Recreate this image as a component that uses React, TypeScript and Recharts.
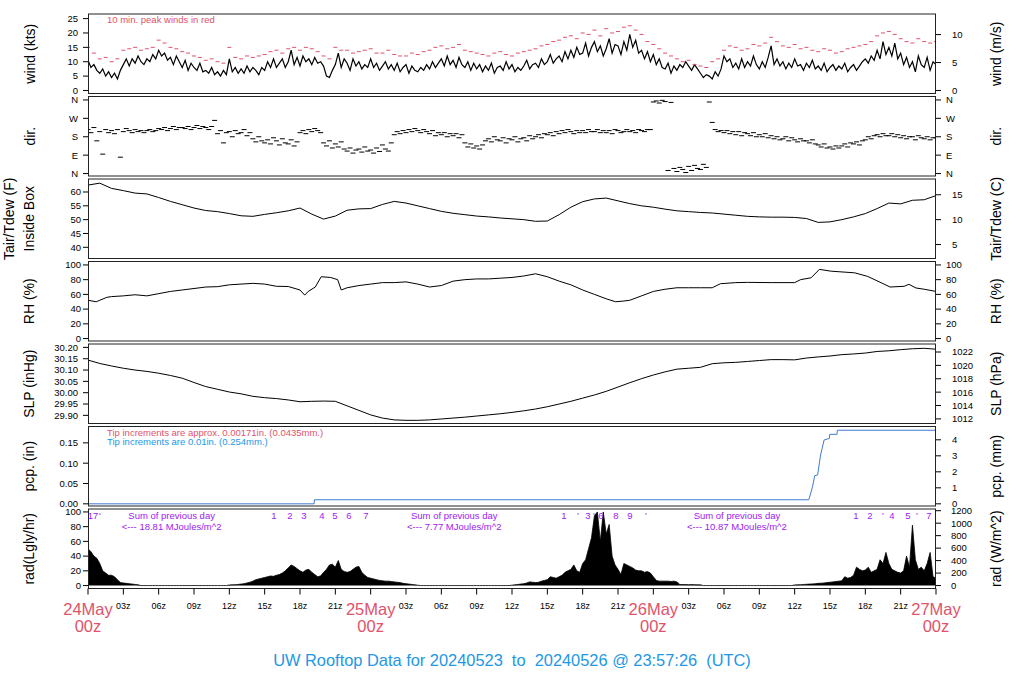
import React from "react";
import { ComposedChart, Line, Scatter, Area, XAxis, YAxis } from "recharts";

const FONT = '"Liberation Sans", Arial, Helvetica, sans-serif';
const PINK = "#DF536B";
const BLUE = "#2297E6";
const PURPLE = "#A020F0";

// 15-minute mean wind (kts), 24May 00z .. 27May 00z
const windKts = [
  10.5, 8, 9, 7, 6, 7.5, 5, 6.5, 4.5, 6, 4, 7, 9, 11, 8.5, 11, 9.5, 12, 10, 9, 11, 10, 12.5, 11,
  14, 12, 13, 10.5, 11.5, 9, 12, 10, 8, 10.5, 7, 9.5, 8, 7, 9.5, 6.5, 7, 6, 8, 5.5, 6.5, 5, 7, 5.5,
  11, 6.5, 8, 6, 7.5, 6, 8.5, 6.5, 8, 7, 5.5, 8, 7, 10, 8, 11, 8, 9.5, 11, 8, 10, 14, 9, 11.5,
  8.5, 12, 10, 11, 9, 11.5, 9.5, 10, 8.5, 5, 4.5, 7, 9, 13, 8, 11, 9.5, 7, 11, 8.5, 10, 7.5, 9, 8,
  11, 8, 9.5, 7, 8.5, 10, 7.5, 9, 7, 9.5, 6.5, 8, 9, 6, 8.5, 7, 6.5, 8, 7, 9, 7.5, 10, 8, 9.5,
  11, 8.5, 12, 9, 10.5, 8, 11.5, 9, 8, 10, 7, 9.5, 7.5, 9, 6.5, 8.5, 7, 9.5, 6, 8, 8.5, 7, 10, 7.5,
  9, 6.5, 8, 7, 8.5, 10.5, 7.5, 9, 9.5, 8, 11, 9, 10, 12.5, 9.5, 11, 12, 10, 13.5, 11, 14, 11.5, 15, 12.5,
  13, 16.5, 12, 15, 17, 13.5, 15.5, 12, 14.5, 18, 13, 16, 15.5, 12.5, 17, 14, 19.5, 15, 17.5, 13, 14, 11, 13.5, 10,
  12.5, 9, 11, 8, 7.5, 9.5, 6, 8.5, 7, 9, 8, 10, 8.5, 7, 9, 7.5, 6, 4.5, 5.5, 5, 4, 6.5, 5, 7.5,
  12, 10, 11, 8, 9.5, 7.5, 11, 8, 10, 8.5, 12, 9, 7.5, 10, 8, 11.5, 15.5, 9, 11, 8.5, 10, 7.5, 9.5, 8,
  11, 8.5, 9, 7, 9.5, 8, 10.5, 7.5, 8.5, 7, 9.5, 6.5, 8, 9, 7, 8.5, 7.5, 9.5, 6.5, 8, 9, 7, 8.5, 10,
  11, 9.5, 12, 10.5, 14, 11, 17, 12.5, 15, 12, 16.5, 11, 13, 9, 11.5, 8, 10, 6.5, 12, 9, 8, 11.5, 7, 10,
  9,
];

// 30-minute peak wind (kts)
const peakKts = [
  15, 13, 11, 11.5, 10, 11, 14, 14.5, 15, 14, 14.5, 15, 17.5, 16.5, 15, 14.5, 13.5, 13, 12, 11.5, 10.5, 11, 10, 9.5,
  15, 11.5, 11, 12, 11.5, 12, 12.5, 13.5, 14, 13, 14.5, 15, 14, 15, 14.5, 13.5, 12, 11, 15, 14, 14, 13, 13.5, 14,
  14.5, 13, 13, 14, 12.5, 12, 12, 13, 12.5, 13.5, 14, 15, 15.5, 14.5, 15, 16, 14, 13.5, 13, 12.5, 12, 13, 13.5, 12.5,
  12, 13, 13.5, 14, 14.5, 15.5, 16, 17, 17.5, 18.5, 19, 18, 20, 19.5, 21, 19, 21.5, 20, 20.5, 22, 22.5, 21, 19.5, 17,
  16, 14.5, 13, 12, 11, 10, 10.5, 9, 8.5, 8, 10, 11, 14, 15.5, 15, 14, 14.5, 16, 15.5, 16.5, 18.5, 17, 15.5, 15,
  16, 14.5, 15, 14, 13.5, 14.5, 14, 13, 13.5, 14.5, 15, 15.5, 16, 17, 19, 20, 20.5, 19.5, 18, 17, 16.5, 18, 17, 16.5,
  17,
];

// 15-minute wind direction (deg)
const windDir = [
  215, 200, 225, 160, 205, 95, 215, 200, 210, 195, 215, 80, 205, 220, 210, 200, 215, 205, 210, 200, 210, 215, 205, 210,
  220, 215, 225, 210, 220, 230, 215, 225, 225, 220, 230, 215, 225, 235, 220, 230, 225, 215, 230, 260, 195, 210, 150, 200,
  205, 180, 210, 195, 200, 215, 185, 200, 170, 155, 180, 160, 150, 165, 145, 175, 160, 140, 170, 150, 145, 165, 135, 155,
  200, 210, 195, 215, 205, 220, 210, 200, 150, 135, 160, 125, 145, 130, 155, 120, 110, 125, 100, 115, 120, 105, 130, 110,
  115, 100, 125, 108, 140, 120, 110, 150, 190, 205, 195, 210, 200, 215, 205, 220, 210, 200, 215, 205, 195, 210, 185, 200,
  190, 200, 180, 195, 185, 195, 175, 190, 150, 130, 145, 125, 135, 120, 140, 160, 170, 155, 180, 165, 160, 175, 150, 170,
  165, 180, 155, 170, 175, 160, 185, 170, 180, 190, 175, 195, 190, 200, 185, 205, 195, 210, 200, 215, 205, 195, 210, 200,
  210, 200, 215, 205, 205, 215, 200, 210, 200, 210, 195, 215, 210, 200, 205, 215, 205, 210, 200, 215, 210, 205, 215, 215,
  350, 355, 345, 358, 352, 15, 348, 25, 10, 30, 20, 5, 35, 15, 40, 25, 20, 45, 30, 350, 250, 215, 205, 210,
  200, 210, 195, 205, 190, 205, 185, 200, 195, 185, 200, 180, 190, 180, 195, 175, 185, 170, 180, 165, 170, 180, 160, 175,
  165, 155, 170, 160, 160, 150, 165, 145, 140, 130, 145, 125, 130, 120, 135, 125, 135, 145, 130, 150, 145, 155, 140, 160,
  165, 180, 170, 185, 190, 180, 195, 185, 185, 195, 180, 190, 175, 185, 170, 180, 180, 165, 185, 175, 170, 180, 165, 175,
  175,
];

// hourly inside-box temperature (F)
const tempF = [
  62.5, 63.2, 61.3, 60.5, 59.6, 59.3, 58.0, 56.6, 55.4, 54.2, 53.3, 52.9, 52.2, 51.4, 51.2, 51.9, 52.5, 53.2, 54.2, 52.0, 50.2, 51.3, 53.4, 53.9,
  54.0, 55.5, 56.6, 56.0, 55.0, 54.0, 53.0, 52.3, 51.8, 51.3, 51.0, 50.6, 50.3, 50.0, 49.4, 49.5, 51.8, 54.5, 56.5, 57.5, 57.8, 56.8, 55.8, 55.0,
  54.5, 53.8, 53.2, 52.9, 52.6, 52.4, 52.0, 51.6, 51.2, 51.0, 50.9, 50.9, 50.8, 50.4, 49.0, 49.2, 50.0, 51.0, 52.2, 54.0, 56.0, 55.7, 57.0, 57.2,
  58.7,
];

// relative humidity (%) as [hour, value]
const rhPct: [number, number][] = [
  [0, 52], [0.7, 50], [1, 52], [1.6, 56], [2, 57], [3, 58], [4, 59.5], [5, 58], [6, 61], [7, 64], [8, 66], [9, 68],
  [10, 70], [11, 70.5], [12, 73], [13, 74], [14, 75], [15, 74], [16, 71], [17, 70.7], [18, 66], [18.4, 59], [18.7, 64],
  [19.3, 70], [19.8, 84], [20.6, 83], [21.2, 80], [21.5, 66], [22, 69], [23, 72], [24, 74], [25, 76], [26, 76], [27, 77],
  [28, 74], [29, 70], [30, 72], [31, 78], [32, 80], [33, 81], [34, 81], [35, 82], [36, 83], [37, 85], [38, 88], [39, 84],
  [40, 78], [41, 73], [42, 66], [43, 60], [44, 54], [44.8, 50], [45.5, 51], [46, 52], [47, 58], [48, 64], [49, 67],
  [50, 69], [51, 69], [52, 69], [53, 69], [53.7, 74.5], [55, 76], [56, 76.3], [58, 76], [60, 76], [60.5, 80], [61.4, 82.6],
  [62.1, 94], [63.1, 91.5], [65.1, 89.3], [66.2, 84.4], [67.4, 75.4], [68.1, 70], [69.3, 71], [69.7, 73.7], [70.3, 68.7],
  [71, 67], [72, 64],
];

// hourly sea level pressure (inHg)
const slpInHg = [
  30.144, 30.129, 30.118, 30.108, 30.1, 30.094, 30.086, 30.076, 30.064, 30.045, 30.027, 30.015, 30.003, 29.995, 29.984, 29.978,
  29.974, 29.968, 29.96, 29.962, 29.963, 29.962, 29.942, 29.922, 29.902, 29.888, 29.88, 29.878, 29.878, 29.88, 29.884, 29.888,
  29.892, 29.897, 29.902, 29.907, 29.913, 29.92, 29.928, 29.938, 29.95, 29.962, 29.976, 29.99, 30.006, 30.025, 30.044, 30.062,
  30.078, 30.092, 30.104, 30.108, 30.112, 30.128, 30.132, 30.134, 30.138, 30.142, 30.146, 30.146, 30.145, 30.153, 30.158, 30.162,
  30.168, 30.171, 30.175, 30.182, 30.185, 30.19, 30.194, 30.196, 30.192,
];

// accumulated precipitation (in) as [hour, value]
const pcpIn: [number, number][] = [
  [0, 0], [19.2, 0], [19.22, 0.01], [61.2, 0.01], [61.5, 0.04], [61.7, 0.069], [61.95, 0.071], [62.2, 0.12],
  [62.5, 0.157], [62.95, 0.161], [62.97, 0.171], [63.6, 0.171], [63.62, 0.181], [72, 0.181],
];

// 15-minute solar radiation (Ly/hr)
const radLy = [
  50, 46, 40, 37, 30, 20, 17, 14, 14, 12, 8, 4, 3.5, 3, 2.5, 2, 1.5, 1, 0, 0, 0, 0, 0, 0,
  0, 0, 0, 0, 0, 0, 0, 0, 0, 0, 0, 0, 0, 0, 0, 0, 0, 0, 0, 0, 0, 0, 0, 0,
  0.8, 1, 1.2, 1.5, 2, 2.5, 3.5, 4.5, 6, 8, 9, 10, 11, 12, 13, 12.5, 14, 15, 17, 20, 24, 28, 26, 23,
  20, 18, 21, 22, 18, 15, 12, 13, 18, 22, 28, 29, 25, 34, 22, 19, 18, 19, 22, 25, 26, 18, 14, 11,
  10, 9, 8, 7, 6.5, 6, 6, 5.5, 5, 4.5, 4, 3, 2.5, 2, 1.5, 1, 0.5, 0, 0, 0, 0, 0, 0, 0,
  0, 0, 0, 0, 0, 0, 0, 0, 0, 0, 0, 0, 0, 0, 0, 0, 0, 0, 0, 0, 0, 0, 0, 0,
  0.5, 1, 1.5, 2, 2.5, 3.5, 5, 4.5, 4, 4.5, 6, 7, 8, 12, 11, 10, 12, 14, 18, 20, 22, 28, 20, 18,
  30, 35, 50, 65, 95, 100, 60, 100, 70, 83, 40, 28, 22, 15, 30, 28, 26, 24, 21, 20, 20, 18, 19, 17,
  12, 7, 6, 6, 6, 6, 5.5, 6, 5, 1.5, 1.3, 1.3, 1.2, 1.3, 1.2, 1, 1, 0, 0, 0, 0, 0, 0, 0,
  0, 0, 0, 0, 0, 0, 0, 0, 0, 0, 0, 0, 0, 0, 0, 0, 0, 0, 0, 0, 0, 0, 0, 0,
  0.8, 1, 1.2, 1.5, 1.7, 2, 2.2, 2.5, 3, 3.2, 3.5, 4, 4.5, 5, 5.5, 6, 6.5, 12, 10, 11, 14, 25, 22, 20,
  21, 25, 18, 20, 22, 35, 30, 45, 30, 22, 20, 18, 17, 20, 40, 25, 82, 35, 22, 25, 20, 30, 45, 12,
  10,
];

const hourTicks = [0, 3, 6, 9, 12, 15, 18, 21, 24, 27, 30, 33, 36, 39, 42, 45, 48, 51, 54, 57, 60, 63, 66, 69, 72];
const dayLabels = ["24May", "25May", "26May", "27May"];
const dayTotals = ["18.81", "7.77", "10.87"];

// purple cumulative markers along the top of the radiation panel (label, pixel x)
const radMarks: [string, number][] = [
  ["17", 93], ["'", 100], ["1", 274], ["2", 290], ["3", 304], ["4", 322], ["5", 335], ["6", 349], ["7", 366],
  ["1", 564], ["'", 578], ["3", 588], ["'", 594], ["6", 601], ["8", 616], ["9", 630], ["'", 646],
  ["1", 856], ["2", 870], ["'", 883], ["4", 892], ["5", 908], ["'", 917], ["7", 929],
];

const every15 = (arr: number[]) => arr.map((v, i) => ({ t: i / 4, v }));
const windData = every15(windKts);
const peakData = peakKts.map((v, i) => ({ t: i / 2, v }));
const dirData = every15(windDir);
const tempData = tempF.map((v, i) => ({ t: i, v }));
const rhData = rhPct.map(([t, v]) => ({ t, v }));
const slpData = slpInHg.map((v, i) => ({ t: i, v }));
const pcpData = pcpIn.map(([t, v]) => ({ t, v }));
const radData = every15(radLy);

const W = 1024;
const AXW = 88;
const PLOT_L = 88;
const PLOT_R = 936;
const PANEL_H = 79.5;
const PAD = 12;
const TOPS = [14, 96.5, 179, 261.5, 344, 426.5, 509];
const xAt = (t: number) => PLOT_L + (t / 72) * (PLOT_R - PLOT_L);

const KT2MS = 0.514444;
const IN2HPA = 33.8639;
const LY2W = 11.8;

const tickStyle = { fontSize: 9.5, fill: "#000" };

function leftAxis(domain: number[], ticks: number[], margin = 5, fmt?: (v: number) => string) {
  return (
    <YAxis
      yAxisId="l"
      type="number"
      domain={domain}
      allowDataOverflow
      ticks={ticks}
      interval={0}
      width={AXW}
      axisLine={false}
      tickLine={{ stroke: "#000" }}
      tickSize={5}
      tickMargin={margin}
      tick={tickStyle}
      tickFormatter={fmt}
    />
  );
}

function rightAxis(domain: number[], ticks: number[], margin = 11, fmt?: (v: number) => string) {
  return (
    <YAxis
      yAxisId="r"
      orientation="right"
      type="number"
      domain={domain}
      allowDataOverflow
      ticks={ticks}
      interval={0}
      width={AXW}
      axisLine={false}
      tickLine={{ stroke: "#000" }}
      tickSize={5}
      tickMargin={margin}
      tick={tickStyle}
      tickFormatter={fmt}
    />
  );
}

const hiddenX = <XAxis type="number" dataKey="t" domain={[0, 72]} allowDataOverflow hide />;

const dash = (color: string, half: number) => (p: any) =>
  <line x1={p.cx - half} x2={p.cx + half} y1={p.cy} y2={p.cy} stroke={color} strokeWidth={1} />;

function TimeTick(props: any) {
  const { x, y, payload } = props;
  const t = payload.value as number;
  if (t % 24 === 0) {
    return (
      <g>
        <text x={x} y={y + 18.5} textAnchor="middle" fontSize={16.5} fill={PINK}>{dayLabels[t / 24]}</text>
        <text x={x} y={y + 35.5} textAnchor="middle" fontSize={16.5} fill={PINK}>00z</text>
      </g>
    );
  }
  const label = String(t % 24).padStart(2, "0") + "z";
  return <text x={x} y={y + 12.5} textAnchor="middle" fontSize={9} fill="#000">{label}</text>;
}

const dirNames: Record<number, string> = { 0: "N", 90: "E", 180: "S", 270: "W", 360: "N" };

const windDom = [-1.05, 26.6];
const dirDom = [-14.4, 374.4];
const tempDom = [35.95, 64.7];
const rhDom = [-4, 104];
const slpDom = [29.864, 30.215];
const pcpDom = [-0.0066, 0.189];
const radDom = [-4, 104];

function box(top: number) {
  return <rect key={top} x={88.5} y={top} width={847} height={PANEL_H} fill="none" stroke="#222" strokeWidth={1} />;
}

function vLabel(text: string, x: number, y: number) {
  return (
    <text key={text + x + y} transform={`translate(${x},${y}) rotate(-90)`} textAnchor="middle" dominantBaseline="central" fontSize={14} fill="#000">
      {text}
    </text>
  );
}

const centers = TOPS.map((t) => t + PANEL_H / 2);

export default function App() {
  const pos = (top: number): React.CSSProperties => ({ position: "absolute", left: 0, top: top - PAD });
  const m = { top: PAD, right: 0, bottom: PAD, left: 0 };
  const h = PANEL_H + 2 * PAD;

  return (
    <div style={{ position: "absolute", left: 0, top: 0, width: W, height: 700, background: "#fff", fontFamily: FONT }}>
      <div style={pos(TOPS[0])}>
        <ComposedChart width={W} height={h} data={windData} margin={m}>
          {hiddenX}
          {leftAxis(windDom, [0, 5, 10, 15, 20, 25])}
          {rightAxis(windDom.map((v) => v * KT2MS), [0, 5, 10])}
          <Line yAxisId="l" type="linear" dataKey="v" stroke="#000" strokeWidth={1.2} dot={false} isAnimationActive={false} />
          <Scatter yAxisId="l" data={peakData} dataKey="v" shape={dash(PINK, 2)} isAnimationActive={false} />
        </ComposedChart>
      </div>

      <div style={pos(TOPS[1])}>
        <ComposedChart width={W} height={h} data={dirData} margin={m}>
          {hiddenX}
          {leftAxis(dirDom, [0, 90, 180, 270, 360], 5, (v) => dirNames[v])}
          {rightAxis(dirDom, [0, 90, 180, 270, 360], 5, (v) => dirNames[v])}
          <Scatter yAxisId="l" dataKey="v" shape={dash("#000", 2.5)} isAnimationActive={false} />
        </ComposedChart>
      </div>

      <div style={pos(TOPS[2])}>
        <ComposedChart width={W} height={h} data={tempData} margin={m}>
          {hiddenX}
          {leftAxis(tempDom, [40, 45, 50, 55, 60], 2)}
          {rightAxis(tempDom.map((f) => (f - 32) / 1.8), [5, 10, 15])}
          <Line yAxisId="l" type="linear" dataKey="v" stroke="#000" strokeWidth={1} dot={false} isAnimationActive={false} />
        </ComposedChart>
      </div>

      <div style={pos(TOPS[3])}>
        <ComposedChart width={W} height={h} data={rhData} margin={m}>
          {hiddenX}
          {leftAxis(rhDom, [0, 20, 40, 60, 80, 100], 2)}
          {rightAxis(rhDom, [0, 20, 40, 60, 80, 100], 5)}
          <Line yAxisId="l" type="linear" dataKey="v" stroke="#000" strokeWidth={1} dot={false} isAnimationActive={false} />
        </ComposedChart>
      </div>

      <div style={pos(TOPS[4])}>
        <ComposedChart width={W} height={h} data={slpData} margin={m}>
          {hiddenX}
          {leftAxis(slpDom, [29.9, 29.95, 30.0, 30.05, 30.1, 30.15, 30.2], 5, (v) => v.toFixed(2))}
          {rightAxis(slpDom.map((v) => v * IN2HPA), [1012, 1014, 1016, 1018, 1020, 1022])}
          <Line yAxisId="l" type="linear" dataKey="v" stroke="#000" strokeWidth={1} dot={false} isAnimationActive={false} />
        </ComposedChart>
      </div>

      <div style={pos(TOPS[5])}>
        <ComposedChart width={W} height={h} data={pcpData} margin={m}>
          {hiddenX}
          {leftAxis(pcpDom, [0, 0.05, 0.1, 0.15], 5, (v) => v.toFixed(2))}
          {rightAxis(pcpDom.map((v) => v * 25.4), [0, 1, 2, 3, 4])}
          <Line yAxisId="l" type="linear" dataKey="v" stroke="#3F7BD0" strokeWidth={1} dot={false} isAnimationActive={false} />
        </ComposedChart>
      </div>

      <div style={pos(TOPS[6])}>
        <ComposedChart width={W} height={PANEL_H + PAD + 70} data={radData} margin={{ top: PAD, right: 0, bottom: 0, left: 0 }}>
          <XAxis
            type="number"
            dataKey="t"
            domain={[0, 72]}
            allowDataOverflow
            ticks={hourTicks}
            interval={0}
            height={70}
            tickSize={6}
            tickLine={{ stroke: "#000" }}
            axisLine={{ stroke: "#000" }}
            tick={(p: any) => <TimeTick {...p} />}
          />
          {leftAxis(radDom, [0, 20, 40, 60, 80, 100], 2)}
          {rightAxis(radDom.map((v) => v * LY2W), [0, 200, 400, 600, 800, 1000, 1200], 10)}
          <Area yAxisId="l" type="linear" dataKey="v" baseValue={0} stroke="#000" strokeWidth={0.8} fill="#000" fillOpacity={1} dot={false} isAnimationActive={false} />
        </ComposedChart>
      </div>

      <svg width={W} height={700} style={{ position: "absolute", left: 0, top: 0, pointerEvents: "none" }}>
        {TOPS.map(box)}

        {vLabel("wind (kts)", 30, centers[0])}
        {vLabel("dir.", 30, centers[1])}
        {vLabel("Tair/Tdew (F)", 9, centers[2])}
        {vLabel("Inside Box", 29, centers[2])}
        {vLabel("RH (%)", 29, centers[3])}
        {vLabel("SLP (inHg)", 29, centers[4])}
        {vLabel("pcp. (in)", 29, centers[5])}
        {vLabel("rad(Lgly/hr)", 29, centers[6])}

        {vLabel("wind (m/s)", 996, centers[0])}
        {vLabel("dir.", 996, centers[1])}
        {vLabel("Tair/Tdew (C)", 996, centers[2])}
        {vLabel("RH (%)", 996, centers[3])}
        {vLabel("SLP (hPa)", 996, centers[4])}
        {vLabel("pcp. (mm)", 996, centers[5])}
        {vLabel("rad (W/m^2)", 996, centers[6])}

        <text x={107} y={23} fontSize={9.5} fill={PINK}>10 min. peak winds in red</text>
        <text x={107} y={436} fontSize={9.5} fill={PINK}>Tip increments are approx. 0.00171in. (0.0435mm.)</text>
        <text x={107} y={445} fontSize={9.5} fill={BLUE}>Tip increments are 0.01in. (0.254mm.)</text>

        {dayTotals.map((s, i) => (
          <g key={s}>
            <text x={xAt(i * 24 + 7.1)} y={518.5} fontSize={9.5} fill={PURPLE} textAnchor="middle">Sum of previous day</text>
            <text x={xAt(i * 24 + 7.1)} y={529.5} fontSize={9.5} fill={PURPLE} textAnchor="middle">{`<--- ${s} MJoules/m^2`}</text>
          </g>
        ))}
        {radMarks.map(([s, x], i) => (
          <text key={i} x={x} y={518.5} fontSize={9.5} fill={PURPLE} textAnchor="middle">{s}</text>
        ))}

        <text x={512} y={666} fontSize={16.4} fill={BLUE} textAnchor="middle" style={{ whiteSpace: "pre" }}>
          {"UW Rooftop Data for 20240523  to  20240526 @ 23:57:26  (UTC)"}
        </text>
      </svg>
    </div>
  );
}
